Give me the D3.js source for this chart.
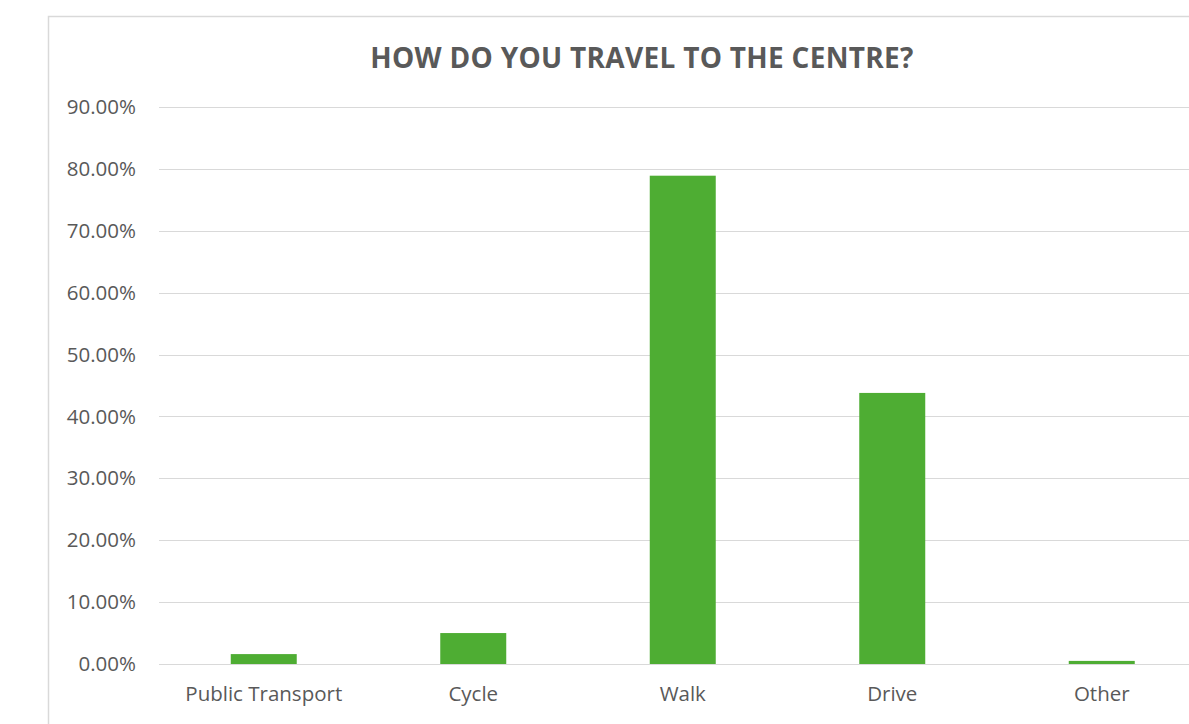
<!DOCTYPE html>
<html>
<head>
<meta charset="utf-8">
<script src="https://cdn.jsdelivr.net/npm/d3@7"></script>
<style>
  body { margin: 0; background: #fff; }
  svg { display: block; }
  .axis text { font-family: "Open Sans", sans-serif; fill: #595959; }
</style>
</head>
<body>
<div id="chart"></div>
<script>
// chart data
var categories = ["Public Transport", "Cycle", "Walk", "Drive", "Other"];
var shares = [0.016, 0.050, 0.789, 0.438, 0.005];
var yTicks = [0, 0.1, 0.2, 0.3, 0.4, 0.5, 0.6, 0.7, 0.8, 0.9];
var title = "HOW DO YOU TRAVEL TO THE CENTRE?";

var W = 1189, H = 724;
var plot = {left: 159, right: 1206.5, top: 107, bottom: 664};

var svg = d3.select("#chart").append("svg")
    .attr("width", W)
    .attr("height", H);

// chart frame (runs off the right and bottom edge)
svg.append("rect")
    .attr("x", 48.5).attr("y", 16.5)
    .attr("width", 1200).attr("height", 760)
    .attr("fill", "#fff")
    .attr("stroke", "#d9d9d9")
    .attr("stroke-width", 1.5);

var x = d3.scaleBand()
    .domain(categories)
    .range([plot.left, plot.right])
    .paddingInner(0.685)
    .paddingOuter(0.3425);

var y = d3.scaleLinear()
    .domain([0, 0.9])
    .range([plot.bottom, plot.top]);

// gridlines
svg.append("g")
    .selectAll("line")
    .data(yTicks)
    .enter().append("line")
    .attr("x1", plot.left).attr("x2", W)
    .attr("y1", function(d) { return Math.round(y(d)) + 0.5; })
    .attr("y2", function(d) { return Math.round(y(d)) + 0.5; })
    .attr("stroke", "#d9d9d9")
    .attr("stroke-width", 1.2);

// y axis labels
var yAxis = svg.append("g")
    .attr("class", "axis")
    .attr("transform", "translate(" + (plot.left - 23) + ",0)")
    .call(d3.axisLeft(y).tickValues(yTicks).tickSize(0).tickPadding(0)
        .tickFormat(function(d) { return (d * 100).toFixed(2) + "%"; }));
yAxis.select(".domain").remove();
yAxis.selectAll("text").style("font-size", "20.5px");

// bars
svg.append("g")
    .selectAll("rect")
    .data(shares)
    .enter().append("rect")
    .attr("x", function(d, i) { return x(categories[i]); })
    .attr("y", function(d) { return y(d); })
    .attr("width", x.bandwidth())
    .attr("height", function(d) { return y(0) - y(d); })
    .attr("fill", "#4ead33");

// x axis labels
var xAxis = svg.append("g")
    .attr("class", "axis")
    .attr("transform", "translate(0,701)")
    .call(d3.axisBottom(x).tickSize(0).tickPadding(0));
xAxis.select(".domain").remove();
xAxis.selectAll("text").style("font-size", "20.5px").attr("dy", "0");

// title
svg.append("text")
    .attr("x", 642)
    .attr("y", 68)
    .attr("text-anchor", "middle")
    .style("font-family", "'Open Sans', sans-serif")
    .style("font-weight", "bold")
    .style("font-size", "28px")
    .style("letter-spacing", "0.3px")
    .style("fill", "#595959")
    .text(title);
</script>
</body>
</html>
